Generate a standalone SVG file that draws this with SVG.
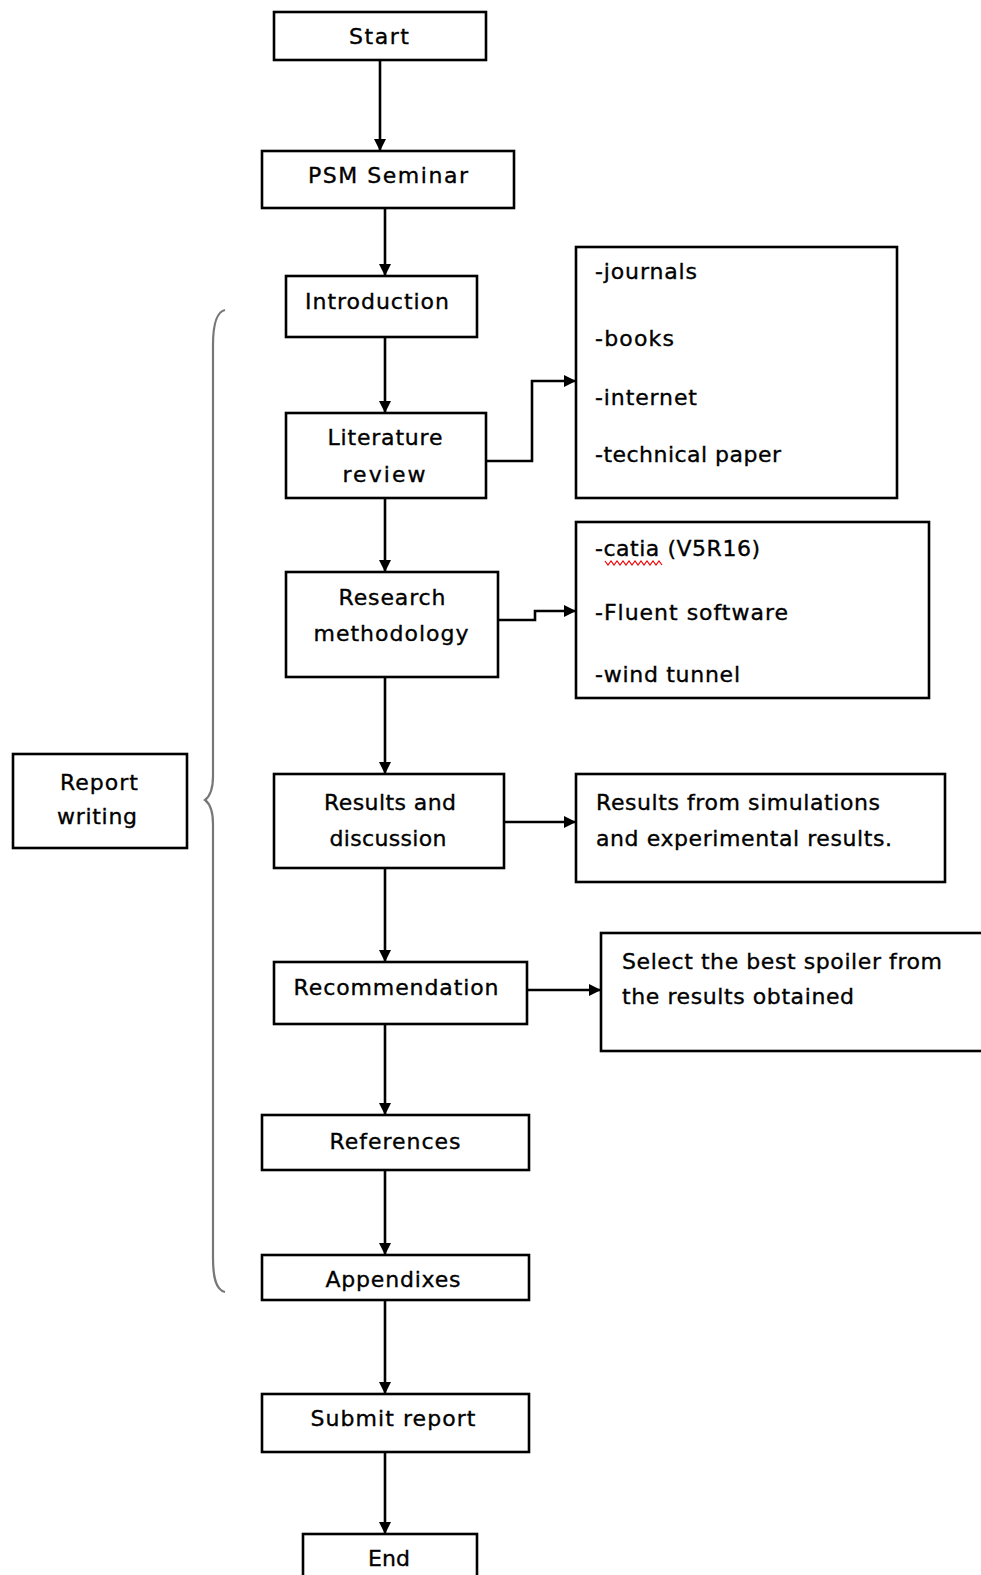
<svg xmlns="http://www.w3.org/2000/svg" width="981" height="1575" viewBox="0 0 981 1575">
<defs>
<marker id="ah" markerWidth="12" markerHeight="12" refX="12" refY="6" orient="auto" markerUnits="userSpaceOnUse">
<path d="M0,0 L12,6 L0,12 Z" fill="#000"/>
</marker>
<style>
.box{fill:#fff;stroke:#000;stroke-width:2.6}
.t{font-family:"DejaVu Sans","Liberation Sans",sans-serif;font-size:22px;fill:#000;stroke:#000;stroke-width:0.35}
.m{text-anchor:middle}
.c{fill:none;stroke:#000;stroke-width:2.6}
.brace{fill:none;stroke:#777;stroke-width:2.2}
</style>
</defs>
<rect width="981" height="1575" fill="#fff"/>

<g id="connectors">
<line class="c" x1="380" y1="60" x2="380" y2="151" marker-end="url(#ah)"/>
<line class="c" x1="385" y1="208" x2="385" y2="276" marker-end="url(#ah)"/>
<line class="c" x1="385" y1="337" x2="385" y2="413" marker-end="url(#ah)"/>
<line class="c" x1="385" y1="498" x2="385" y2="572" marker-end="url(#ah)"/>
<line class="c" x1="385" y1="677" x2="385" y2="774" marker-end="url(#ah)"/>
<line class="c" x1="385" y1="868" x2="385" y2="962" marker-end="url(#ah)"/>
<line class="c" x1="385" y1="1024" x2="385" y2="1115" marker-end="url(#ah)"/>
<line class="c" x1="385" y1="1170" x2="385" y2="1255" marker-end="url(#ah)"/>
<line class="c" x1="385" y1="1300" x2="385" y2="1394" marker-end="url(#ah)"/>
<line class="c" x1="385" y1="1452" x2="385" y2="1534" marker-end="url(#ah)"/>
<polyline class="c" points="486,461 532,461 532,381 576,381" marker-end="url(#ah)"/>
<polyline class="c" points="498,620 535,620 535,611 576,611" marker-end="url(#ah)"/>
<line class="c" x1="504" y1="822" x2="576" y2="822" marker-end="url(#ah)"/>
<line class="c" x1="527" y1="990" x2="601" y2="990" marker-end="url(#ah)"/>
</g>

<g id="brace">
<path class="brace" d="M225,310 C216,312 213,325 213,345 L213,776 C213,790 209,797 205,800 C209,803 213,810 213,824 L213,1258 C213,1278 216,1290 225,1292"/>
</g>

<g id="start">
<rect class="box" x="274" y="12" width="212" height="48"/>
<text class="t m" x="379" y="44" textLength="60">Start</text>
</g>
<g id="psm">
<rect class="box" x="262" y="151" width="252" height="57"/>
<text class="t m" x="388" y="183" textLength="160">PSM Seminar</text>
</g>
<g id="intro">
<rect class="box" x="286" y="276" width="191" height="61"/>
<text class="t m" x="377" y="309" textLength="144">Introduction</text>
</g>
<g id="lit">
<rect class="box" x="286" y="413" width="200" height="85"/>
<text class="t m" x="385" y="445" textLength="115">Literature</text>
<text class="t m" x="384" y="482" textLength="83">review</text>
</g>
<g id="sources">
<rect class="box" x="576" y="247" width="321" height="251"/>
<text class="t" x="595" y="279" textLength="102">-journals</text>
<text class="t" x="595" y="346" textLength="79">-books</text>
<text class="t" x="595" y="405" textLength="102">-internet</text>
<text class="t" x="595" y="462" textLength="186">-technical paper</text>
</g>
<g id="research">
<rect class="box" x="286" y="572" width="212" height="105"/>
<text class="t m" x="392" y="605" textLength="107">Research</text>
<text class="t m" x="391" y="641" textLength="155">methodology</text>
</g>
<g id="tools">
<rect class="box" x="576" y="522" width="353" height="176"/>
<text class="t" x="595" y="556" textLength="165">-catia (V5R16)</text>
<polyline points="605,561 608,565 611,561 614,565 617,561 620,565 623,561 626,565 629,561 632,565 635,561 638,565 641,561 644,565 647,561 650,565 653,561 656,565 659,561 662,565" fill="none" stroke="#e00" stroke-width="1.2"/>
<text class="t" x="595" y="620" textLength="193">-Fluent software</text>
<text class="t" x="595" y="682" textLength="145">-wind tunnel</text>
</g>
<g id="results">
<rect class="box" x="274" y="774" width="230" height="94"/>
<text class="t m" x="390" y="810" textLength="132">Results and</text>
<text class="t m" x="388" y="846" textLength="117">discussion</text>
</g>
<g id="resultsnote">
<rect class="box" x="576" y="774" width="369" height="108"/>
<text class="t" x="596" y="810" textLength="284">Results from simulations</text>
<text class="t" x="596" y="846" textLength="296">and experimental results.</text>
</g>
<g id="recommendation">
<rect class="box" x="274" y="962" width="253" height="62"/>
<text class="t m" x="396" y="995" textLength="205">Recommendation</text>
</g>
<g id="select">
<rect class="box" x="601" y="933" width="400" height="118"/>
<text class="t" x="622" y="969" textLength="320">Select the best spoiler from</text>
<text class="t" x="622" y="1004" textLength="232">the results obtained</text>
</g>
<g id="references">
<rect class="box" x="262" y="1115" width="267" height="55"/>
<text class="t m" x="395" y="1149" textLength="131">References</text>
</g>
<g id="appendixes">
<rect class="box" x="262" y="1255" width="267" height="45"/>
<text class="t m" x="393" y="1287" textLength="135">Appendixes</text>
</g>
<g id="submit">
<rect class="box" x="262" y="1394" width="267" height="58"/>
<text class="t m" x="393" y="1426" textLength="165">Submit report</text>
</g>
<g id="end">
<rect class="box" x="303" y="1534" width="174" height="60"/>
<text class="t m" x="389" y="1566" textLength="42">End</text>
</g>
<g id="report">
<rect class="box" x="13" y="754" width="174" height="94"/>
<text class="t m" x="99" y="790" textLength="78">Report</text>
<text class="t m" x="97" y="824" textLength="80">writing</text>
</g>
</svg>
